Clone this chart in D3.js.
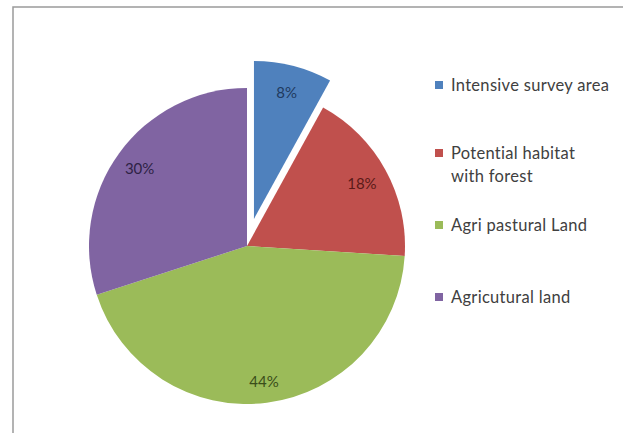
<!DOCTYPE html>
<html>
<head>
<meta charset="utf-8">
<script src="https://cdn.jsdelivr.net/npm/d3@7"></script>
<style>
  html, body { margin: 0; padding: 0; background: #fff; }
  svg { display: block; }
</style>
</head>
<body>
<svg id="chart" width="623" height="433"></svg>
<script>
// Land-use shares
const categories = ["Intensive survey area", "Potential habitat with forest", "Agri pastural Land", "Agricutural land"];
const legendLines = [["Intensive survey area"], ["Potential habitat", "with forest"], ["Agri pastural Land"], ["Agricutural land"]];
const values = [8, 18, 44, 30];
const colors = ["#4F81BD", "#C0504D", "#9BBB59", "#8064A2"];
const labelColors = ["#1f3a5f", "#5a1a18", "#3a4d1a", "#2e2245"];
const explodedIndex = 0;

const svg = d3.select("#chart");

// chart frame
svg.append("rect")
  .attr("x", 13).attr("y", 7)
  .attr("width", 640).attr("height", 460)
  .attr("fill", "#fff")
  .attr("stroke", "#9a9a9a").attr("stroke-width", 1.5);

const cx = 247, cy = 246, r = 158, explode = 28;

const pie = d3.pie().sort(null).value(d => d)
  .startAngle(0).endAngle(2 * Math.PI);
const arcs = pie(values);
const arc = d3.arc().innerRadius(0).outerRadius(r);

const g = svg.append("g").attr("transform", `translate(${cx},${cy})`);

function offset(d, i) {
  if (i !== explodedIndex) return [0, 0];
  const a = (d.startAngle + d.endAngle) / 2;
  return [Math.sin(a) * explode, -Math.cos(a) * explode];
}

g.selectAll("path.slice")
  .data(arcs)
  .join("path")
  .attr("class", "slice")
  .attr("d", arc)
  .attr("fill", (d, i) => colors[i])
  .attr("transform", (d, i) => { const o = offset(d, i); return `translate(${o[0]},${o[1]})`; });

// percentage labels placed along each slice's mid-angle
const labelRadius = [0.83, 0.83, 0.86, 0.84];
g.selectAll("text.pct")
  .data(arcs)
  .join("text")
  .attr("class", "pct")
  .attr("x", (d, i) => {
    const a = (d.startAngle + d.endAngle) / 2;
    return Math.sin(a) * r * labelRadius[i] + offset(d, i)[0];
  })
  .attr("y", (d, i) => {
    const a = (d.startAngle + d.endAngle) / 2;
    return -Math.cos(a) * r * labelRadius[i] + offset(d, i)[1];
  })
  .attr("text-anchor", "middle")
  .attr("dominant-baseline", "central")
  .attr("font-family", "Lato, 'Open Sans', sans-serif")
  .attr("font-size", 15)
  .attr("fill", (d, i) => labelColors[i])
  .text(d => d.data + "%");

// legend
const legendY = [85, 153, 225, 297];
const legend = svg.append("g");
categories.forEach((c, i) => {
  legend.append("rect")
    .attr("x", 435).attr("y", legendY[i] - 4)
    .attr("width", 8).attr("height", 8)
    .attr("fill", colors[i]);
  const t = legend.append("text")
    .attr("x", 451).attr("y", legendY[i])
    .attr("dominant-baseline", "central")
    .attr("font-family", "Lato, 'Open Sans', sans-serif")
    .attr("font-size", 16.5)
    .attr("letter-spacing", 0.3)
    .attr("fill", "#404040");
  legendLines[i].forEach((line, j) => {
    t.append("tspan").attr("x", 451).attr("dy", j === 0 ? 0 : 23).text(line);
  });
});
</script>
</body>
</html>
